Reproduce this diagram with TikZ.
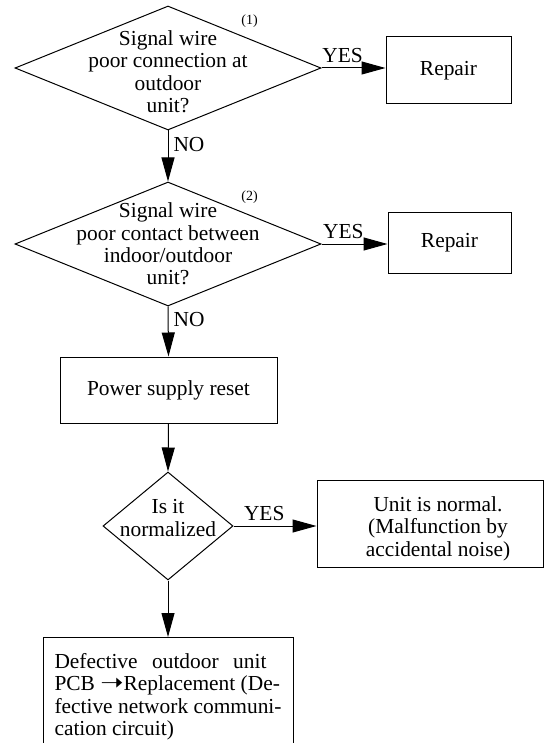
\documentclass[tikz,border=0pt]{standalone}
\usepackage{fontspec}
\setmainfont{Liberation Serif}
\newfontfamily\arrowfont{DejaVu Sans}
\usetikzlibrary{shapes.geometric,arrows.meta}

\begin{document}
\begin{tikzpicture}[x=0.5pt,y=-0.5pt,line width=0.5pt,
    font=\fontsize{10.7}{11.2}\selectfont,
    decision/.style={diamond,draw,align=center},
    block/.style={rectangle,draw,align=center},
    numtag/.style={font=\fontsize{7}{8}\selectfont,inner sep=0pt},
    answer/.style={inner sep=2.5pt},
    flow/.style={-{Triangle[length=12pt,width=6.5pt]}}]
    \clip (0,0) rectangle (544,743);
%    \draw [color=gray!30] [step=20] (0,0) grid (544,743);
    \node[decision,aspect=2.5,inner sep=-15pt,minimum width=153pt,minimum height=62pt] (wire1) at (168,68) {\rule{0pt}{11pt}Signal wire\\poor connection at\\outdoor\\unit?};
    \node[numtag] (tag1) at (249.5,21.5) {(1)};
    \node[block,minimum width=62.5pt,minimum height=33.5pt] (repair1) at (448.5,70.5) {Repair};

    \node[decision,aspect=2.5,inner sep=-15pt,minimum width=153pt,minimum height=62pt] (wire2) at (168,244) {Signal wire\\poor contact between\\indoor/outdoor\\unit?};
    \node[numtag] (tag2) at (249.5,197.5) {(2)};
    \node[block,minimum width=61.5pt,minimum height=30pt] (repair2) at (449.5,243) {Repair};

    \node[block,minimum width=108.5pt,minimum height=33pt] (reset) at (168.5,390) {Power supply reset};

    \node[decision,inner sep=-6pt,minimum width=65pt,minimum height=54pt] (normal) at (168,526) {Is it\\normalized\rule[-8pt]{0pt}{8pt}};
    \node[block,minimum width=113pt,minimum height=40pt] (noise) at (430,524) {\rule{0pt}{12pt}\hspace*{8pt}Unit is normal.\\\hspace*{8pt}(Malfunction by\\\hspace*{8pt}accidental noise)};

    \node[draw,anchor=north,minimum width=125pt,inner ysep=8pt,align=left] (pcb) at (168,637)
        {\makebox[106pt][l]{Defective\hfill outdoor\hfill unit}\\PCB \scalebox{1.3}[1.1]{\arrowfont ➝}Replacement (De-\\fective network communi-\\cation circuit)};

    \draw[flow] (wire1.east) -- node[answer,above,pos=0.33] {YES} (wire1.east -| repair1.west);
    \draw[flow] (wire1.south) -- node[answer,right,pos=0.27] {NO} (wire2.north);
    \draw[flow] (wire2.east) -- node[answer,above,pos=0.33] {YES} (wire2.east -| repair2.west);
    \draw[flow] (wire2.south) -- node[answer,right,pos=0.27] {NO} (reset.north);
    \draw[flow] (reset.south) -- (normal.north);
    \draw[flow] (normal.east) -- node[answer,above,pos=0.37] {YES} (normal.east -| noise.west);
    \draw[flow] (normal.south) -- (pcb.north);
\end{tikzpicture}
\end{document}
